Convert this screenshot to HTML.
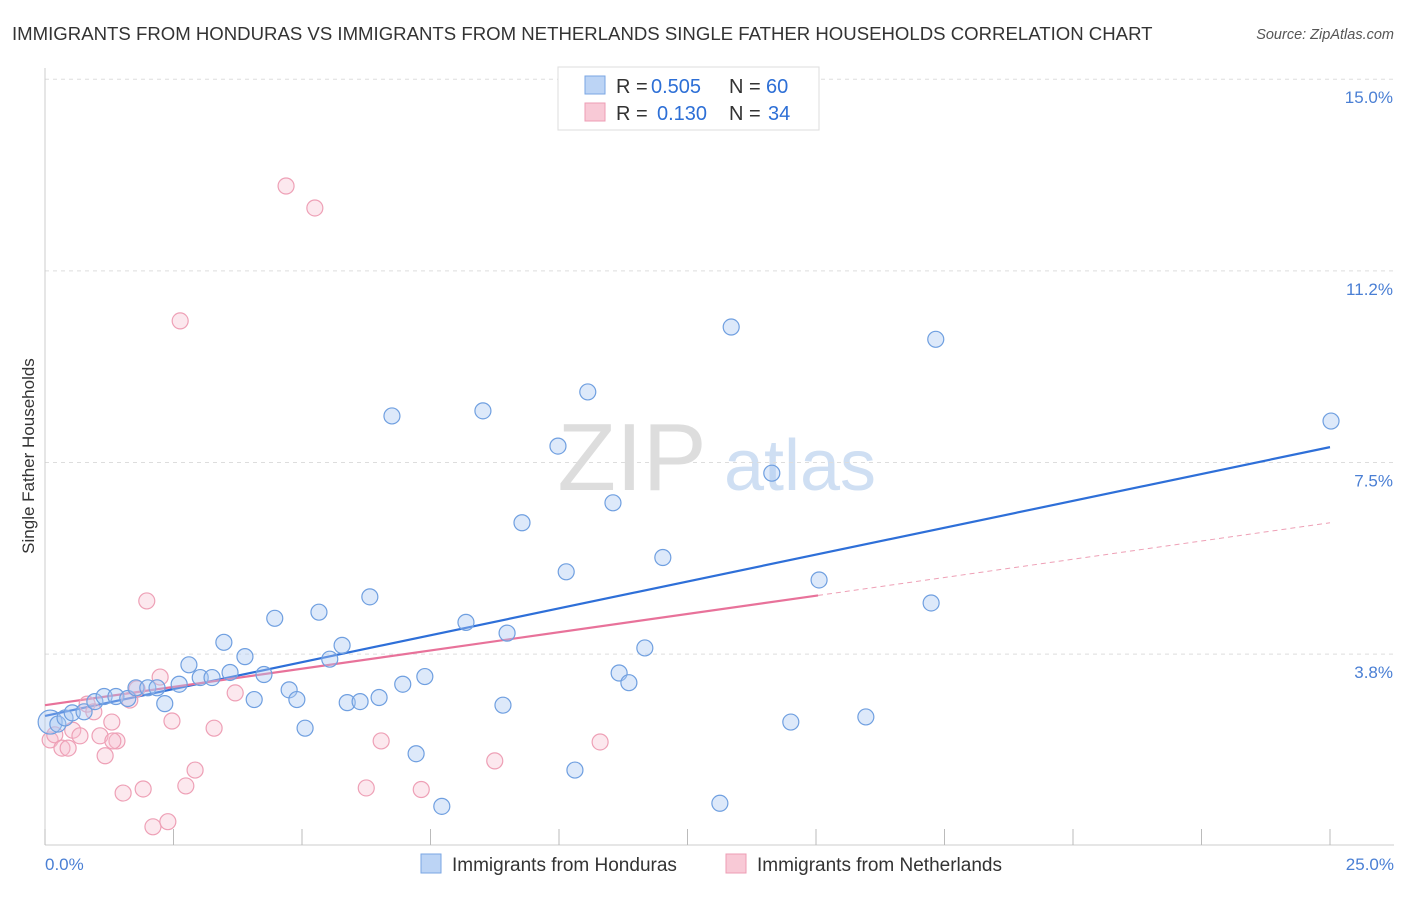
<!DOCTYPE html>
<html><head><meta charset="utf-8"><style>
body{margin:0;background:#fff;font-family:"Liberation Sans",sans-serif;}
svg text{font-family:"Liberation Sans",sans-serif;}
</style></head><body>
<svg id="c" width="1406" height="892">
<text x="12" y="40" font-size="18.6" fill="#333">IMMIGRANTS FROM HONDURAS VS IMMIGRANTS FROM NETHERLANDS SINGLE FATHER HOUSEHOLDS CORRELATION CHART</text>
<text x="1394" y="39" font-size="14.5" fill="#555" text-anchor="end" font-style="italic">Source: ZipAtlas.com</text>
<text x="34" y="456" font-size="17" fill="#333" text-anchor="middle" transform="rotate(-90 34 456)">Single Father Households</text>
<text x="632" y="490" font-size="96" fill="#ddd" font-family="Liberation Serif" text-anchor="middle">ZIP</text>
<text x="800" y="490" font-size="72" fill="#cfdff3" text-anchor="middle">atlas</text>
<g id="grid"></g><g id="axes"></g><g id="lines"></g><g id="pts"></g>
<g>
<rect x="558" y="67" width="261" height="63" fill="#fff" stroke="#ddd"/>
<rect x="585" y="76" width="20" height="18" fill="#bcd4f5" stroke="#7aa6e3"/>
<text y="93" font-size="20" fill="#333"><tspan x="616">R =</tspan><tspan x="651" fill="#2d6fd6">0.505</tspan><tspan x="729">N =</tspan><tspan x="766" fill="#2d6fd6">60</tspan></text>
<rect x="585" y="103" width="20" height="18" fill="#f8c9d6" stroke="#ee9db4"/>
<text y="120" font-size="20" fill="#333"><tspan x="616">R =</tspan><tspan x="657" fill="#2d6fd6">0.130</tspan><tspan x="729">N =</tspan><tspan x="768" fill="#2d6fd6">34</tspan></text>
</g>
<g>
<rect x="421" y="854" width="20" height="19" fill="#bcd4f5" stroke="#7aa6e3"/>
<text x="452" y="871" font-size="19" fill="#333">Immigrants from Honduras</text>
<rect x="726" y="854" width="20" height="19" fill="#f8c9d6" stroke="#ee9db4"/>
<text x="757" y="871" font-size="19" fill="#333">Immigrants from Netherlands</text>
</g>
</svg>
<script>
const yTicks=[3.75,7.5,11.25,15];
const yTickLabels=["3.8%","7.5%","11.2%","15.0%"];
const blueX=[0.1,0.25,0.39,0.53,0.76,0.97,1.15,1.38,1.61,1.77,2.0,2.18,2.33,2.61,2.8,3.02,3.25,3.48,3.6,3.89,4.07,4.26,4.47,4.75,4.9,5.06,5.33,5.54,5.78,5.88,6.13,6.32,6.5,6.75,6.96,7.22,7.39,7.72,8.19,8.52,8.91,8.99,9.28,9.98,10.14,10.31,10.56,11.05,11.17,11.36,11.67,12.02,13.13,13.35,14.14,14.51,15.06,15.97,17.24,17.33,25.02];
const blueY=[2.42,2.38,2.5,2.6,2.62,2.82,2.92,2.92,2.88,3.09,3.09,3.09,2.78,3.16,3.54,3.29,3.29,3.98,3.39,3.7,2.86,3.35,4.45,3.05,2.86,2.3,4.57,3.65,3.92,2.8,2.82,4.87,2.9,8.41,3.16,1.8,3.31,0.77,4.37,8.51,2.75,4.16,6.32,7.82,5.36,1.48,8.88,6.71,3.38,3.19,3.87,5.64,0.83,10.15,7.29,2.42,5.2,2.52,4.75,9.91,8.31];
const pinkX=[0.1,0.19,0.33,0.45,0.54,0.68,0.82,0.95,1.07,1.17,1.3,1.4,1.52,1.65,1.79,1.91,1.98,2.1,2.24,2.39,2.47,2.63,2.74,2.92,3.29,3.7,4.69,5.25,6.25,6.54,7.32,8.75,10.8,1.32];
const pinkY=[2.07,2.17,1.91,1.91,2.26,2.15,2.77,2.62,2.15,1.76,2.42,2.05,1.03,2.85,3.07,1.11,4.79,0.37,3.3,0.47,2.44,10.27,1.17,1.48,2.3,2.99,12.91,12.48,1.13,2.05,1.1,1.66,2.03,2.05];
const blueLine=[2.54,7.8];const pinkLine=[2.75,6.32];const pinkSolidEnd=15.04;
const X=v=>45+v*51.4, Y=v=>845.7-v*51.1;
const NS="http://www.w3.org/2000/svg";
function mk(t,a,p){const e=document.createElementNS(NS,t);for(const k in a)e.setAttribute(k,a[k]);p.appendChild(e);return e;}
const grid=document.getElementById('grid'),axes=document.getElementById('axes'),lines=document.getElementById('lines'),pts=document.getElementById('pts');
yTicks.forEach((t,i)=>{
 const l=mk('line',{x1:45,x2:1394,y1:Y(t),y2:Y(t),stroke:'#ddd','stroke-dasharray':'4,4'},grid);
 
 
 const tx=mk('text',{x:1393,y:Y(t)+24,'font-size':17,fill:'#4a7fd4','text-anchor':'end'},grid);tx.textContent=yTickLabels[i];
 
 
});
mk('line',{x1:45,x2:1394,y1:845,y2:845,stroke:'#ccc'},axes);
mk('line',{x1:45,x2:45,y1:68,y2:845,stroke:'#ccc'},axes);
for(let i=0;i<=10;i++){const t=mk('line',{x1:X(i*2.5),x2:X(i*2.5),y1:829,y2:845,stroke:'#bbb'},axes);
 
 }
let a=mk('text',{x:45,y:870,'font-size':17,fill:'#4a7fd4'},axes);a.textContent="0.0%";


a=mk('text',{x:1394,y:870,'font-size':17,fill:'#4a7fd4','text-anchor':'end'},axes);a.textContent="25.0%";


const pv=x=>pinkLine[0]+(pinkLine[1]-pinkLine[0])*x/25;
function circ(x,y,r,f,s,n){const c=mk('circle',{cx:X(x),cy:Y(y),r:r,fill:f,stroke:s,'stroke-width':1.2},pts);
 
 }
pinkX.forEach((x,i)=>circ(x,pinkY[i],8,'rgba(246,190,206,0.35)','#eea0b6','netherlands-point'));
blueX.forEach((x,i)=>circ(x,blueY[i],i==0?12:8,'rgba(170,200,242,0.4)','#6f9fe0','honduras-point'));
let l=mk('line',{x1:X(0),y1:Y(blueLine[0]),x2:X(25),y2:Y(blueLine[1]),stroke:'#2e6fd8','stroke-width':2.2},lines);


l=mk('line',{x1:X(0),y1:Y(pv(0)),x2:X(pinkSolidEnd),y2:Y(pv(pinkSolidEnd)),stroke:'#e8729a','stroke-width':2.2},lines);


l=mk('line',{x1:X(pinkSolidEnd),y1:Y(pv(pinkSolidEnd)),x2:X(25),y2:Y(pv(25)),stroke:'#eea0b6','stroke-width':1,'stroke-dasharray':'5,4'},lines);


</script>
</body></html>
